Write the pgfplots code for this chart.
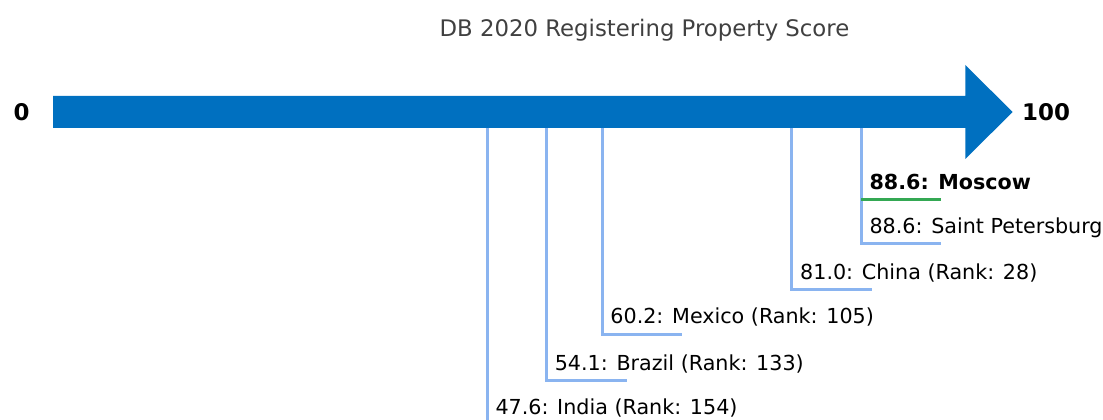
\documentclass[border=0pt]{standalone}
\usepackage{pgfplots}
\pgfplotsset{compat=1.18}
\usepackage{fontspec}
\setmainfont{DejaVu Sans}
\definecolor{arrowblue}{HTML}{0070C0}
\definecolor{lineblue}{HTML}{8AB4F0}
\definecolor{mgreen}{HTML}{34A853}
\definecolor{titlegray}{HTML}{404040}
\begin{document}
\begin{tikzpicture}
\begin{axis}[scale only axis, width=827.25pt, height=315pt,
  xmin=-5.81, xmax=115.1, ymin=0, ymax=420, y dir=reverse,
  hide axis, clip=false]
% arrow (scale 0 to 100)
\addplot[fill=arrowblue, draw=none] coordinates {(0,96) (100,96) (100,65) (105.2,112) (100,159) (100,128) (0,128)} -- cycle;
% leader lines
\addplot[lineblue, line width=2.25pt] coordinates {(47.6,128) (47.6,420)};
\addplot[lineblue, line width=2.25pt, line join=miter] coordinates {(54.1,128) (54.1,380) (62.87,380)};
\addplot[lineblue, line width=2.25pt, line join=miter] coordinates {(60.2,128) (60.2,334) (68.97,334)};
\addplot[lineblue, line width=2.25pt, line join=miter] coordinates {(81.0,128) (81.0,290) (89.77,290)};
\addplot[lineblue, line width=2.25pt, line join=miter] coordinates {(88.6,128) (88.6,244) (97.37,244)};
\addplot[mgreen, line width=2.25pt] coordinates {(88.6,200) (97.37,200)};
% labels
\tikzset{lab/.style={anchor=base west, inner sep=0pt, font=\fontsize{15.5}{18}\selectfont}}
\node[lab] at (axis cs:48.48,414) {47.6: India (Rank: 154)};
\node[lab] at (axis cs:54.98,370) {54.1: Brazil (Rank: 133)};
\node[lab] at (axis cs:61.08,324) {60.2: Mexico (Rank: 105)};
\node[lab] at (axis cs:81.88,280) {81.0: China (Rank: 28)};
\node[lab] at (axis cs:89.48,234) {88.6: Saint Petersburg};
\node[lab, font=\fontsize{15.5}{18}\selectfont\bfseries] at (axis cs:89.48,190) {88.6: Moscow};
% ends
\node[font=\fontsize{17.2}{20}\selectfont\bfseries] at (axis cs:-3.45,112) {0};
\node[font=\fontsize{17.2}{20}\selectfont\bfseries] at (axis cs:108.86,112) {100};
% title
\node[font=\fontsize{17.1}{20}\selectfont, text=titlegray] at (axis cs:64.84,30) {DB 2020 Registering Property Score};
\end{axis}
\pgfresetboundingbox
\path[use as bounding box] (current axis.south west) rectangle (current axis.north east);
\end{tikzpicture}
\end{document}
